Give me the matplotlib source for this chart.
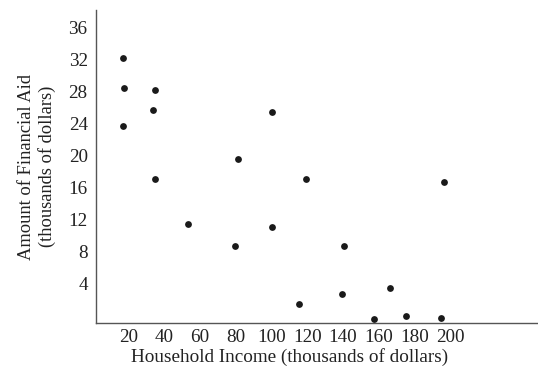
import matplotlib
matplotlib.use("Agg")
import matplotlib.pyplot as plt

income = [17, 17.8, 35.1, 34.1, 17, 81.3, 35.1, 100.3, 119.3, 196.2,
          53.2, 79.4, 100.3, 140.7, 115.6, 139.2, 166.3, 157.1, 175.4, 195]
aid = [32.3, 28.5, 28.2, 25.75, 23.8, 19.6, 17.1, 25.5, 17.1, 16.8,
       11.5, 8.8, 11.1, 8.8, 1.5, 2.8, 3.5, -0.4, 0.0, -0.25]
xticks = [20, 40, 60, 80, 100, 120, 140, 160, 180, 200]
yticks = [4, 8, 12, 16, 20, 24, 28, 32, 36]

plt.rcParams['font.family'] = ['Liberation Serif', 'DejaVu Serif']

fig = plt.figure(figsize=(5.38, 3.72), dpi=100)
ax = fig.add_axes([96/538, 49/372, 1 - 96/538, (323 - 10)/372])
ax.scatter(income, aid, s=24, color='#1a1a1a', zorder=3, linewidths=0)
ax.set_xlim(2, 249)
ax.set_ylim(-0.875, 38.25)
ax.set_xticks(xticks)
ax.set_yticks(yticks)
ax.tick_params(axis='both', length=0, labelsize=13.8, colors='#222222')
ax.tick_params(axis='x', pad=4)
ax.tick_params(axis='y', pad=6)
for s in ['top', 'right']:
    ax.spines[s].set_visible(False)
for s in ['left', 'bottom']:
    ax.spines[s].set_color('#555555')
    ax.spines[s].set_linewidth(1.0)
ax.set_xlabel('Household Income (thousands of dollars)', fontsize=13.8, color='#222222', labelpad=2)
ax.xaxis.label.set_x(0.437)
ax.set_ylabel('Amount of Financial Aid\n(thousands of dollars)', fontsize=13.3, color='#222222', labelpad=9, linespacing=1.25)
fig.savefig('out.png', dpi=100)
